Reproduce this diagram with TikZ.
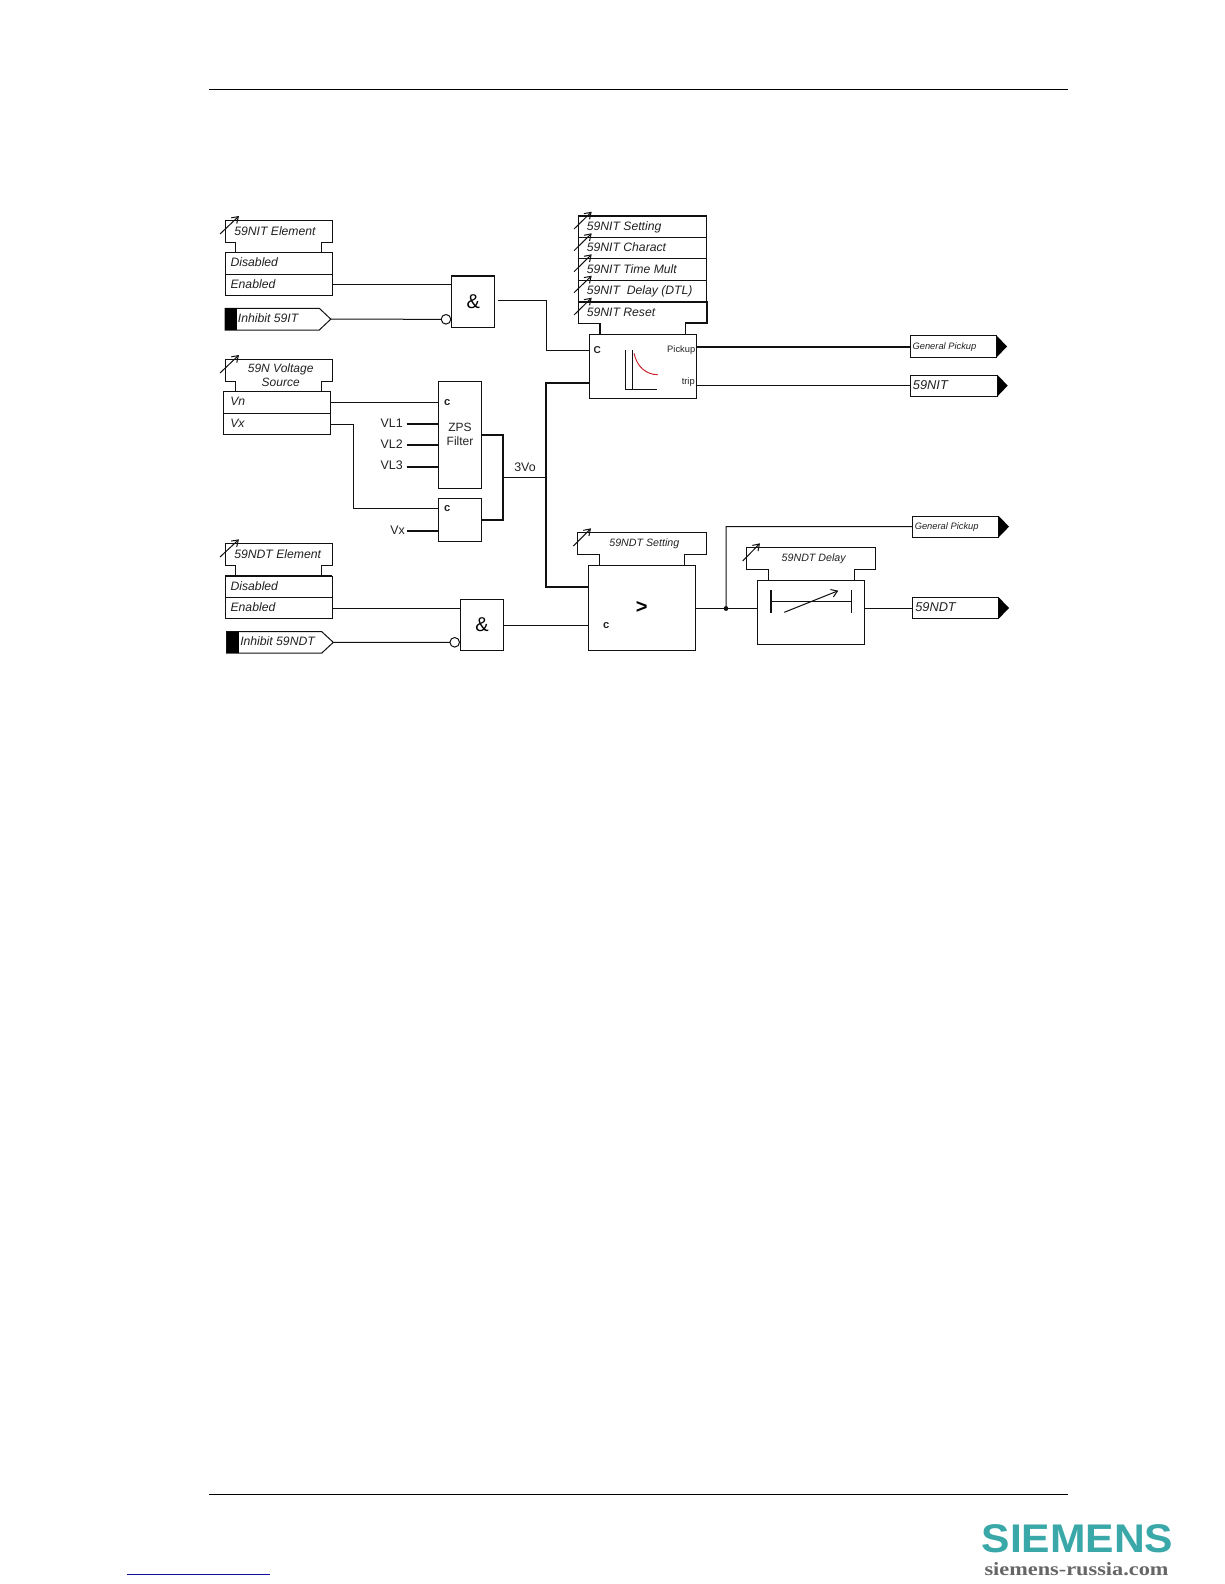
\documentclass[tikz,border=0pt]{standalone}
\usepackage{fontspec}
\usepackage{graphicx}
\setmainfont{Liberation Sans}
\newfontfamily\sitefont{Liberation Serif}
\definecolor{inkc}{HTML}{111111}
\definecolor{txtc}{HTML}{222222}
\definecolor{tealc}{HTML}{3AA8A8}
\definecolor{linkc}{HTML}{10109A}
\definecolor{curvec}{HTML}{C8202A}
\usetikzlibrary{arrows.meta}
\tikzset{
  thin line/.style={line width=0.75pt,draw=inkc},
  thick line/.style={line width=1.3pt,draw=inkc},
  blk/.style={thin line,rectangle,inner sep=0pt,outer sep=0pt,fill=white},
  il/.style={font=\fontsize{9.15}{11}\selectfont\itshape,text=txtc,inner sep=0pt,anchor=base west},
  ilc/.style={font=\fontsize{8}{10}\selectfont\itshape,text=txtc,inner sep=0pt,anchor=base},
  rm/.style={font=\fontsize{9.3}{11}\selectfont,text=txtc,inner sep=0pt},
  small/.style={font=\fontsize{7}{8}\selectfont,text=txtc,inner sep=0pt},
  gp/.style={font=\fontsize{7}{8}\selectfont\itshape,text=txtc,inner sep=0pt,anchor=base west},
  cc/.style={font=\fontsize{8.4}{9}\selectfont\bfseries,text=txtc,inner sep=0pt},
  bub/.style={circle,thin line,fill=white,minimum size=7.2pt,inner sep=0pt,outer sep=0pt},
  adj/.style={thin line,-{Straight Barb[length=4.5pt,width=6pt]}},
}
% box from (x1,y1) to (x2,y2), in reference pixels
\newcommand{\bx}[7][]{\node[blk,minimum width={(#5-#3)*0.75pt},minimum height={(#6-#4)*0.75pt},#1] (#2) at ({(#3+#5)/2},{(#4+#6)/2}) {#7};}
% settings tab with its two legs
\newcommand{\tabs}[7]{\draw[thin line] (#5,#7) -- (#5,#4) -- (#1,#4) -- (#1,#2) -- (#3,#2) -- (#3,#4) -- (#6,#4) -- (#6,#7);}
% input flag: black end, pentagon, tip coordinate
\newcommand{\inflag}[6]{\draw[thin line,fill=white] (#2,#4) -- (#3,#4) -- (#3+11.5,{(#4+#5)/2}) -- (#3,#5) -- (#2,#5) -- cycle;
  \fill[black] (#2,#4) rectangle (#2+12,#5);
  \coordinate (#1) at (#3+11.5,{(#4+#5)/2});}
% output flag: box and black tip
\newcommand{\outflag}[6]{\bx{#1}{#2}{#3}{#4}{#5}{}
  \fill[black] (#4,#3) -- (#6,{(#3+#5)/2}) -- (#4,#5) -- cycle;}
\begin{document}
\begin{tikzpicture}[x=0.75pt,y=-0.75pt]
\useasboundingbox (0,0) rectangle (1224,1584);
\fill[white] (0,0) rectangle (1224,1584);
% page rules
\coordinate (ruleTL) at (209,89.5); \coordinate (ruleTR) at (1068,89.5);
\coordinate (ruleBL) at (209,1494.5); \coordinate (ruleBR) at (1068,1494.5);
\draw[line width=0.75pt,black] (ruleTL) -- (ruleTR);
\draw[line width=0.75pt,black] (ruleBL) -- (ruleBR);
\coordinate (linkL) at (127,1574.5); \coordinate (linkR) at (270,1574.5);
\draw[line width=0.75pt,linkc] (linkL) -- (linkR);

%% 59NIT element
\tabs{225.3}{220.7}{332.3}{242.3}{235.7}{321.3}{252.3}
\bx{nitDis}{225.3}{252.3}{332.3}{274.5}{}
\bx{nitEn}{225.3}{274.5}{332.3}{295.3}{}
\coordinate (a1s) at (220,234); \coordinate (a1e) at (239,216);
\draw[adj] (a1s) -- (a1e);
\node[il] (tNitEl) at (234,235) {59NIT Element};
\node[il] (tNitDis) at (230.3,266.5) {Disabled};
\node[il] (tNitEn) at (230.3,288.3) {Enabled};
\inflag{inhA}{225}{319.3}{308.3}{330}{}
\node[il] (tInhA) at (237.7,322.7) {Inhibit 59IT};
\bx[line width=1pt]{andA}{451.7}{276}{494.7}{327.3}{\raisebox{0.6pt}{\fontsize{15}{15}\selectfont \&}}
\node[bub] (bubA) at (446,319.3) {};
\draw[thin line] (nitEn.east) -- (andA.west |- nitEn.east);
\draw[thin line] (inhA) -- (bubA.west);

%% 59N voltage source
\tabs{225.3}{359.3}{332.3}{381.7}{235.7}{321.3}{391.3}
\bx{vn}{223.3}{391.3}{330.3}{413.3}{}
\bx{vx}{223.3}{413.3}{330.3}{434.3}{}
\coordinate (a2s) at (220,373); \coordinate (a2e) at (239,355);
\draw[adj] (a2s) -- (a2e);
\node[ilc,font=\fontsize{9}{11}\selectfont\itshape] (tSrc1) at (280.7,372) {59N Voltage};
\node[ilc,font=\fontsize{9}{11}\selectfont\itshape] (tSrc2) at (280.7,386) {Source};
\node[il] (tVn) at (230,405.8) {Vn};
\node[il] (tVx) at (230,427) {Vx};

%% ZPS filter and Vx block
\bx{zps}{438.3}{381.7}{481.7}{488.3}{}
\bx{vxb}{438.3}{498.3}{481.7}{541.3}{}
\node[rm,align=center,font=\fontsize{9}{10.6}\selectfont] (tZps) at (460,434.3) {ZPS\\[-0.3pt]Filter};
\node[cc] (cZps) at (447.3,402.5) {c};
\node[cc] (cVxb) at (447.3,508.5) {c};
\node[rm,anchor=east] (vl1) at (403,423) {VL1};
\node[rm,anchor=east] (vl2) at (403,444.6) {VL2};
\node[rm,anchor=east] (vl3) at (403,465.5) {VL3};
\node[rm,anchor=east] (vxIn) at (405,530) {Vx};
\draw[thick line] (406.5,424) -- (zps.west |- 0,424);
\draw[thick line] (406.5,445) -- (zps.west |- 0,445);
\draw[thick line] (406.5,466.7) -- (zps.west |- 0,466.7);
\draw[thick line] (407,530.7) -- (vxb.west |- 0,530.7);
\draw[thin line] (vn.east) -- (zps.west |- vn.east);
\draw[thin line] (vx.east |- 0,424.3) -- (353.3,424.3) -- (353.3,508.3) -- (vxb.west |- 0,508.3);
\coordinate (joinT) at (503.3,435); \coordinate (joinB) at (503.3,519.7);
\draw[thick line] (zps.east |- joinT) -- (joinT) -- (joinB) -- (vxb.east |- joinB);
\coordinate (bus) at (546,477.3);
\draw[thin line] (503.3,477.3) -- (bus);
\node[rm,anchor=west] (t3vo) at (514,467.3) {3Vo};

%% NIT characteristic block
\coordinate (stackTL) at (578.3,215.7);
\draw[thin line] (578.3,215.7) -- (578.3,323.3) -- (600,323.3);
\draw[thick line] (578.3,215.7) -- (706.6,215.7);
\draw[thin line] (706.6,215.7) -- (706.6,302);
\draw[thin line] (578.3,237.3) -- (706.6,237.3);
\draw[thin line] (578.3,258.3) -- (706.6,258.3);
\draw[thin line] (578.3,280.3) -- (706.6,280.3);
\draw[thick line] (578.3,302) -- (707,302) -- (707,323.3) -- (685.3,323.3);
\draw[thick line] (600,323.3) -- (600,334.3);
\draw[thin line] (685.3,323.3) -- (685.3,334.3);
\foreach \ya/\yb in {229/211.7,250.7/233.3,271.7/254.3,292.7/275.7,315/297.7}
  \draw[adj] (574,\ya) -- (591.7,\yb);
\node[il] (s1) at (586.5,230) {59NIT Setting};
\node[il] (s2) at (586.5,251) {59NIT Charact};
\node[il] (s3) at (586.5,273) {59NIT Time Mult};
\node[il] (s4) at (586.5,294) {59NIT\ \ Delay (DTL)};
\node[il] (s5) at (586.5,316) {59NIT Reset};
\bx{nit}{589.3}{334.3}{696.6}{398.3}{}
\node[cc,font=\fontsize{7.5}{8}\selectfont\bfseries] (cNit) at (597.3,350) {C};
\node[small,anchor=east] (tPick) at (695.5,349.8) {Pickup};
\node[small,anchor=east] (tTrip) at (695,381.8) {trip};
\draw[thin line] (625.7,350) -- (625.7,389.3) -- (656.7,389.3);
\draw[thin line] (632.7,350) -- (632.7,389.3);
\draw[line width=0.7pt,curvec] (634,353.3) .. controls (637,367) and (646,374.5) .. (657.7,374.7);
\draw[thin line] (andA.east |- 0,300) ++(3,0) -- (546.3,300) -- (546.3,350.3) -- (nit.west |- 0,350.3);

%% 59NDT element
\tabs{225.3}{543.7}{332.3}{565.3}{235.7}{321.3}{576}
\bx{ndtDis}{225.3}{576}{332.3}{597.3}{}
\bx{ndtEn}{225.3}{597.3}{332.3}{618.3}{}
\draw[thick line] (ndtDis.north west) -- (ndtDis.north east);
\coordinate (a3s) at (220,557); \coordinate (a3e) at (239,539.3);
\draw[adj] (a3s) -- (a3e);
\node[il] (tNdtEl) at (234,558) {59NDT Element};
\node[il] (tNdtDis) at (230.3,590.3) {Disabled};
\node[il] (tNdtEn) at (230.3,611.3) {Enabled};
\inflag{inhB}{226.7}{321.8}{631.7}{653}{}
\node[il] (tInhB) at (240,645.7) {Inhibit 59NDT};
\bx{andB}{460.3}{599.7}{503.7}{650.3}{\fontsize{15}{15}\selectfont \&}
\node[bub] (bubB) at (454.7,642.3) {};
\draw[thin line] (ndtEn.east |- 0,608.5) -- (andB.west |- 0,608.5);
\draw[thin line] (inhB) -- (bubB.west);

%% comparator
\tabs{577.7}{532.7}{706}{554.7}{599.3}{684.7}{565.3}
\coordinate (a4s) at (573.3,546); \coordinate (a4e) at (591,528.3);
\draw[adj] (a4s) -- (a4e);
\node[ilc] (tSet) at (644.3,546.8) {59NDT Setting};
\bx{cmp}{588.3}{565.3}{695.7}{650.3}{}
\node[font=\fontsize{15}{15}\selectfont\bfseries,inner sep=0pt] (gt) at (641.7,607.5) {>};
\node[cc] (cCmp) at (606.3,626) {c};
\draw[thin line] (andB.east |- 0,625.5) -- (cmp.west |- 0,625.5);

%% 3Vo bus
\draw[thick line] (nit.west |- 0,382.7) -- (546.3,382.7) -- (546.3,587) -- (cmp.west |- 0,587);

%% delay
\tabs{746.7}{547.7}{875.3}{569.7}{768.3}{854}{580.3}
\coordinate (a5s) at (742.7,561); \coordinate (a5e) at (760,543.3);
\draw[adj] (a5s) -- (a5e);
\node[ilc] (tDel) at (813.7,561.8) {59NDT Delay};
\bx{del}{757.3}{580.3}{864.3}{644.3}{}
\draw[line width=1.3pt,inkc] (770.7,590) -- (770.7,612.7);
\draw[thin line] (851.3,590) -- (851.3,612.7);
\draw[thin line] (770.7,601) -- (851.3,601);
\coordinate (a6s) at (784.3,612.3); \coordinate (a6e) at (838.3,590.7);
\draw[adj] (a6s) -- (a6e);

%% output flags
\outflag{oPickA}{910}{335.7}{996.7}{357.3}{1007}
\outflag{oNit}{910.7}{375}{997.5}{396.3}{1007.7}
\outflag{oPickB}{912.3}{516}{998.7}{537.3}{1009}
\outflag{oNdt}{912.3}{597.3}{998.7}{618.7}{1009}
\node[gp] (tPA) at (912.3,349.2) {General Pickup};
\node[il,font=\fontsize{9.6}{11}\selectfont\itshape] (tON) at (912.7,389.8) {59NIT};
\node[gp] (tPB) at (914.5,529) {General Pickup};
\node[il,font=\fontsize{9.6}{11}\selectfont\itshape] (tOD) at (915,611.5) {59NDT};
\draw[line width=1.6pt,inkc] (nit.east |- 0,347) -- (oPickA.west |- 0,347);
\draw[thin line] (nit.east |- oNit.west) -- (oNit.west);
\coordinate (dot) at (726,608.5);
\draw[thin line] (cmp.east |- dot) -- (dot) -- (del.west |- dot);
\draw[thin line] (dot) -- (726,526.6) -- (oPickB.west);
\fill[inkc] (dot) circle (1.8pt);
\draw[thin line] (del.east |- oNdt.west) -- (oNdt.west);

%% logo
\node[inner sep=0pt,text=tealc] (logo) at (1077.5,1539) {\scalebox{1.065}[1]{\fontsize{30}{30}\selectfont\bfseries SIEMENS}};
\node[inner sep=0pt,text=black!60] (site) at (1076.5,1569.5) {\scalebox{1.195}[1]{\fontsize{14}{14}\selectfont\sitefont\bfseries siemens-russia.com}};
\end{tikzpicture}
\end{document}
